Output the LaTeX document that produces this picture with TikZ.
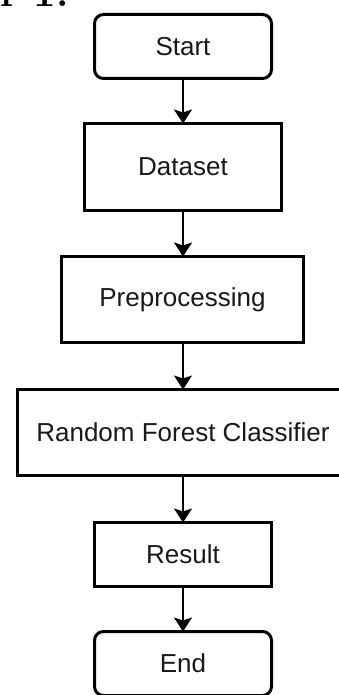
\documentclass[tikz,border=0pt]{standalone}
\usepackage{fontspec}
\newfontfamily\boxfont{Liberation Sans}
\usetikzlibrary{arrows.meta}
\tikzset{
  flowbox/.style={draw=black, line width=3pt, fill=white, inner sep=0pt, outer sep=0pt,
    font=\boxfont\fontsize{26}{30}\selectfont, text=black!90},
  termbox/.style={flowbox, rounded corners=9pt},
  flowarrow/.style={draw=black, line width=2pt, -{Stealth[length=14pt, width=18pt, inset=3pt]}},
}
\begin{document}
\begin{tikzpicture}[x=1pt, y=-1pt]
\clip (0,0) rectangle (339,695);
\useasboundingbox (0,0) rectangle (339,695);
\node[anchor=base west, inner sep=0pt, font=\fontsize{40}{40}\selectfont\bfseries] (cap) at (0,7) {r 1.};
\node[termbox, minimum width=177pt, minimum height=64pt] (start) at (183,46.5) {Start};
\node[flowbox, minimum width=197pt, minimum height=87pt] (data) at (183,167) {Dataset};
\node[flowbox, minimum width=242pt, minimum height=86pt] (prep) at (182.5,299.5) {Preprocessing};
\node[flowbox, minimum width=331pt, minimum height=86pt] (rfc) at (183,432.5) {Random Forest Classifier};
\node[flowbox, minimum width=177pt, minimum height=64pt] (res) at (183,554.5) {Result};
\node[termbox, minimum width=177pt, minimum height=64pt] (end) at (183,663.5) {End};
\draw[flowarrow] (start.south) -- (data.north);
\draw[flowarrow] (data.south) -- (data.south |- prep.north);
\draw[flowarrow] (prep.south -| data.south) -- (data.south |- rfc.north);
\draw[flowarrow] (rfc.south) -- (res.north);
\draw[flowarrow] (res.south) -- (end.north);
\end{tikzpicture}
\end{document}
